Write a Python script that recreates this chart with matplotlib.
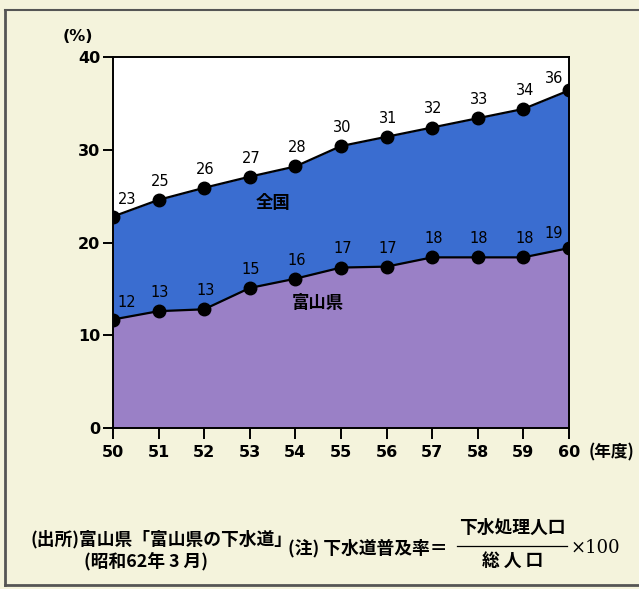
import matplotlib
matplotlib.use("Agg")
import matplotlib.pyplot as plt
from matplotlib.lines import Line2D

plt.rcParams['font.family'] = ['DejaVu Sans', 'Noto Sans CJK JP']

# fiscal years (Showa 50 - 60) and sewer coverage (%)
years = [50, 51, 52, 53, 54, 55, 56, 57, 58, 59, 60]
national = [22.8, 24.6, 25.9, 27.1, 28.2, 30.4, 31.4, 32.4, 33.4, 34.4, 36.4]
toyama = [11.7, 12.6, 12.8, 15.1, 16.1, 17.3, 17.4, 18.4, 18.4, 18.4, 19.4]
yticks = [0, 10, 20, 30, 40]

bg = '#f4f3dc'
blue = '#3a6dd0'
purple = '#9a80c6'
cjk = ['Noto Sans CJK JP', 'DejaVu Sans']

fig = plt.figure(figsize=(6.39, 5.89), dpi=100, facecolor=bg)
ax = fig.add_axes([0.1768, 0.2733, 0.7136, 0.6299])
ax.set_facecolor('white')

ax.fill_between(years, 0, national, color=blue, lw=0)
ax.fill_between(years, 0, toyama, color=purple, lw=0)
ax.plot(years, national, color='black', lw=1.6, marker='o', ms=9)
ax.plot(years, toyama, color='black', lw=1.6, marker='o', ms=9)


def label_offset(i, n, dy_end):
    # nudge the end labels inward so they clear the frame
    if i == 0:
        return (10, 7)
    if i == n - 1:
        return (-11, dy_end)
    return (1, 8)


for series, dy_end in ((national, 3), (toyama, 5)):
    for i, (x, v) in enumerate(zip(years, series)):
        ax.annotate(f'{v:.0f}', (x, v), xytext=label_offset(i, len(years), dy_end),
                    textcoords='offset points', ha='center', va='bottom',
                    fontsize=10.5)

ax.text(53.5, 24.3, '全国', family=cjk, fontsize=12.5, fontweight='bold',
        ha='center', va='center')
ax.text(54.5, 13.5, '富山県', family=cjk, fontsize=12.5, fontweight='bold',
        ha='center', va='center')

ax.set_xlim(50, 60)
ax.set_ylim(0, 40)
ax.set_xticks(years)
ax.set_yticks(yticks)
ax.tick_params(axis='x', length=8, width=1.4, labelsize=11.5, pad=4)
ax.tick_params(axis='y', length=7, width=1.4, labelsize=11.5, pad=2)
for s in ax.spines.values():
    s.set_linewidth(1.4)
for t in ax.get_xticklabels() + ax.get_yticklabels():
    t.set_fontweight('bold')

fig.text(0.098, 0.938, '(%)', fontsize=11.5, fontweight='bold', ha='left', va='center')
fig.text(0.921, 0.231, '(年度)', family=cjk, fontsize=12, fontweight='bold',
         ha='left', va='center')

# source and note below the chart
fig.text(0.047, 0.085, '(出所)富山県「富山県の下水道」', family=cjk, fontsize=12.8,
         fontweight='bold', ha='left', va='center')
fig.text(0.131, 0.048, '(昭和62年 3 月)', family=cjk, fontsize=12.8,
         fontweight='bold', ha='left', va='center')
fig.text(0.451, 0.070, '(注) 下水道普及率＝', family=cjk, fontsize=12.8,
         fontweight='bold', ha='left', va='center')
fig.text(0.801, 0.104, '下水処理人口', family=cjk, fontsize=12.8,
         fontweight='bold', ha='center', va='center')
fig.text(0.803, 0.048, '総 人 口', family=cjk, fontsize=12.8,
         fontweight='bold', ha='center', va='center')
fig.add_artist(Line2D([0.715, 0.887], [0.073, 0.073], color='black', lw=0.9))
fig.text(0.893, 0.070, '×100', family=['DejaVu Serif'], fontsize=13,
         ha='left', va='center')

# page frame
fig.add_artist(Line2D([0.008, 1.0], [0.983, 0.983], color='#555555', lw=1.5))
fig.add_artist(Line2D([0.008, 0.008], [0.983, 0.007], color='#555555', lw=2))
fig.add_artist(Line2D([0.008, 1.0], [0.007, 0.007], color='#555555', lw=2))

fig.savefig('out.png', dpi=100, facecolor=bg)
